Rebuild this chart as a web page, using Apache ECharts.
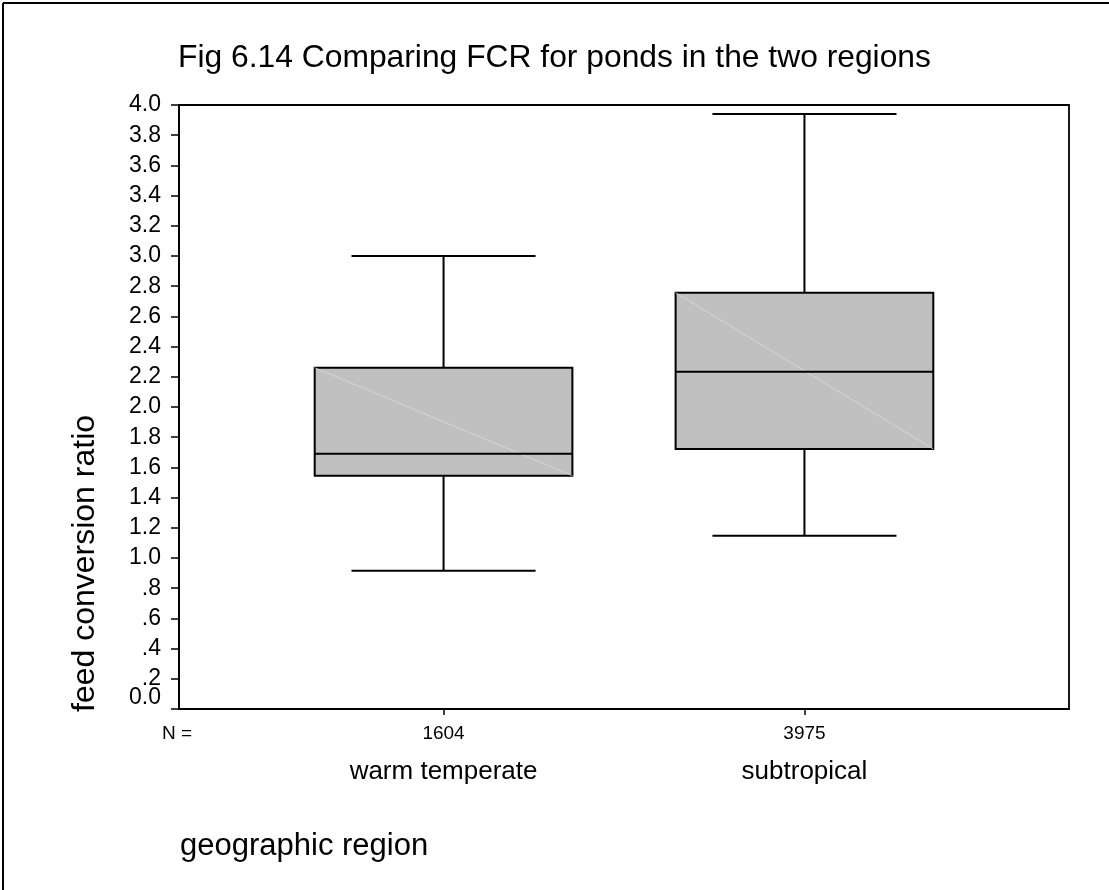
<!DOCTYPE html>
<html>
<head>
<meta charset="utf-8">
<script src="https://cdn.jsdelivr.net/npm/echarts@6/dist/echarts.min.js"></script>
<style>
html,body{margin:0;padding:0;background:#fff;overflow:hidden;}
#chart{width:1109px;height:890px;}
</style>
</head>
<body>
<div id="chart"></div>
<script>
// ---- data ----
const categories = ['warm temperate', 'subtropical'];
const nCounts = ['1604', '3975'];
const whiskerLow = [0.916, 1.148];
const q1 = [1.545, 1.722];
const median = [1.691, 2.234];
const q3 = [2.260, 2.757];
const whiskerHigh = [3.0, 3.94];
const yTickLabels = ['0.0', '.2', '.4', '.6', '.8', '1.0', '1.2', '1.4', '1.6', '1.8', '2.0',
  '2.2', '2.4', '2.6', '2.8', '3.0', '3.2', '3.4', '3.6', '3.8', '4.0'];
const titleText = 'Fig 6.14 Comparing FCR for ponds in the two regions';
const yName = 'feed conversion ratio';
const xName = 'geographic region';
const nPrefix = 'N =';

const FONT = '"Liberation Sans", Arial, sans-serif';
const chart = echarts.init(document.getElementById('chart'), null, {renderer: 'canvas'});

const positions = categories.map((c, i) => i + 1);
const boxData = categories.map((c, i) => [positions[i], whiskerLow[i], q1[i], median[i], q3[i], whiskerHigh[i]]);
const yTickValues = yTickLabels.map((s, i) => Math.round(i * 2) / 10);

function renderBox(params, api) {
  const x = api.value(0);
  const lo = api.coord([x, api.value(1)]);
  const b = api.coord([x, api.value(2)]);
  const m = api.coord([x, api.value(3)]);
  const t = api.coord([x, api.value(4)]);
  const hi = api.coord([x, api.value(5)]);
  const cx = lo[0];
  const hw = api.size([0.357, 0])[0];
  const cw = api.size([0.255, 0])[0];
  const ls = {stroke: '#000', lineWidth: 2};
  return {
    type: 'group',
    children: [
      {type: 'line', shape: {x1: cx, y1: lo[1], x2: cx, y2: b[1]}, style: ls},
      {type: 'line', shape: {x1: cx, y1: t[1], x2: cx, y2: hi[1]}, style: ls},
      {type: 'line', shape: {x1: cx - cw, y1: lo[1], x2: cx + cw, y2: lo[1]}, style: ls},
      {type: 'line', shape: {x1: cx - cw, y1: hi[1], x2: cx + cw, y2: hi[1]}, style: ls},
      {type: 'rect', shape: {x: cx - hw, y: t[1], width: 2 * hw, height: b[1] - t[1]},
        style: {fill: '#c0c0c0', stroke: '#000', lineWidth: 2}},
      {type: 'line', shape: {x1: cx - hw, y1: t[1], x2: cx + hw, y2: b[1]},
        style: {stroke: '#dadada', lineWidth: 0.8}},
      {type: 'line', shape: {x1: cx - hw, y1: m[1], x2: cx + hw, y2: m[1]}, style: ls}
    ]
  };
}

const yLabelFmt = function (v) {
  return yTickLabels[Math.round(v / 0.2)];
};

const option = {
  animation: false,
  backgroundColor: '#fff',
  title: {
    text: titleText,
    left: 'center',
    top: 37,
    textStyle: {fontFamily: FONT, fontSize: 31.8, fontWeight: 'normal', color: '#000'}
  },
  grid: {
    left: 179, right: 40, top: 105, bottom: 181,
    show: true, borderColor: '#000', borderWidth: 1.8, backgroundColor: 'transparent'
  },
  xAxis: {
    type: 'value',
    min: 0.267,
    max: 2.733,
    splitLine: {show: false},
    axisLine: {show: true, lineStyle: {color: '#000', width: 1.8}},
    axisTick: {show: true, customValues: positions, length: 6, lineStyle: {color: '#000', width: 1.5}},
    axisLabel: {
      customValues: positions,
      margin: 12,
      formatter: function (v) {
        const i = Math.round(v) - 1;
        return '{n|' + nCounts[i] + '}\n{c|' + categories[i] + '}';
      },
      rich: {
        n: {fontFamily: FONT, fontSize: 19, color: '#000', lineHeight: 26},
        c: {fontFamily: FONT, fontSize: 26, color: '#000', lineHeight: 50}
      }
    }
  },
  yAxis: [{
    type: 'value',
    min: 0,
    max: 4,
    interval: 0.2,
    splitLine: {show: false},
    axisLine: {show: true, lineStyle: {color: '#000', width: 1.8}},
    axisTick: {show: true, length: 8, lineStyle: {color: '#000', width: 1.5}},
    axisLabel: {
      margin: 18,
      customValues: yTickValues.slice(1),
      hideOverlap: false,
      formatter: yLabelFmt,
      fontFamily: FONT, fontSize: 23, color: '#000'
    }
  }, {
    type: 'value',
    position: 'left',
    offset: 0,
    min: 0,
    max: 4,
    interval: 0.2,
    splitLine: {show: false},
    axisLine: {show: false},
    axisTick: {show: false},
    axisLabel: {
      margin: 18,
      customValues: [yTickValues[0]],
      formatter: function (v) { return '{z|' + yLabelFmt(v) + '}'; },
      rich: {
        z: {fontFamily: FONT, fontSize: 23, color: '#000', padding: [0, 0, 22, 0]}
      }
    }
  }],
  series: [{
    type: 'custom',
    renderItem: renderBox,
    data: boxData,
    encode: {x: 0, y: [1, 2, 3, 4, 5]},
    clip: false
  }],
  graphic: [
    {type: 'line', shape: {x1: 3, y1: 3, x2: 3, y2: 890},
      style: {stroke: '#000', lineWidth: 2}, silent: true, z: 100},
    {type: 'line', shape: {x1: 3, y1: 3, x2: 1109, y2: 3},
      style: {stroke: '#000', lineWidth: 2}, silent: true, z: 100},
    {type: 'text', x: 162, y: 734,
      style: {text: nPrefix, font: '19px ' + FONT, fill: '#000', textAlign: 'left', textVerticalAlign: 'middle'}},
    {type: 'text', x: 180, y: 846,
      style: {text: xName, font: '31px ' + FONT, fill: '#000', textAlign: 'left', textVerticalAlign: 'middle'}},
    {type: 'text', x: 85, y: 712, rotation: Math.PI / 2,
      style: {text: yName, font: '32px ' + FONT, fill: '#000', textAlign: 'left', textVerticalAlign: 'middle'}}
  ]
};
chart.setOption(option);
</script>
</body>
</html>
